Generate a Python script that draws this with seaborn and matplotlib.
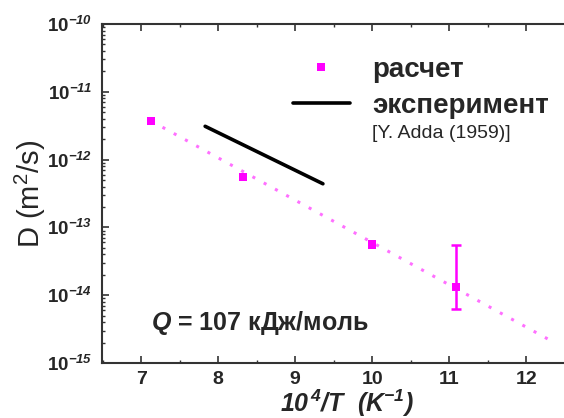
import numpy as np
import pandas as pd
import matplotlib
matplotlib.use("Agg")
import matplotlib.pyplot as plt
import matplotlib.ticker as mticker
import seaborn as sns
from matplotlib.lines import Line2D

# ---- data ----
calc_x = [7.13, 8.32, 10.0, 11.09]
calc_D = [3.7e-12, 5.6e-13, 5.6e-14, 1.34e-14]
err_x = [11.09]
err_D = [1.34e-14]
err_lo = [6.3e-15]
err_hi = [5.5e-14]
fit_x = [7.13, 12.35]
fit_D = [3.7e-12, 2.05e-15]
exp_x = [7.83, 9.36]
exp_D = [3.1e-12, 4.4e-13]
xticks = [7, 8, 9, 10, 11, 12]
yticks = [1e-15, 1e-14, 1e-13, 1e-12, 1e-11, 1e-10]

sns.set_style("ticks")
plt.rcParams["font.family"] = ["Liberation Sans", "DejaVu Sans"]
plt.rcParams["mathtext.fontset"] = "custom"
plt.rcParams["mathtext.rm"] = "Liberation Sans"
plt.rcParams["mathtext.it"] = "Liberation Sans:italic"
plt.rcParams["mathtext.bf"] = "Liberation Sans:bold"
plt.rcParams["mathtext.bfit"] = "Liberation Sans:bold:italic"

W, H = 564, 418
fig = plt.figure(figsize=(W / 100, H / 100), dpi=100)
AX_L, AX_B, AX_W, AX_H = 102, 363, 478, 339
ax = fig.add_axes([AX_L / W, (H - AX_B) / H, AX_W / W, AX_H / H])

MAG = "#ff00ff"
fit_df = pd.DataFrame({"x": fit_x, "D": fit_D})
sns.lineplot(data=fit_df, x="x", y="D", ax=ax, color="#ff70ff",
             linestyle=(0, (1, 3.2)), linewidth=2.2, legend=False)
exp_df = pd.DataFrame({"x": exp_x, "D": exp_D})
sns.lineplot(data=exp_df, x="x", y="D", ax=ax, color="black", linewidth=2.6,
             legend=False)
ax.errorbar(err_x, err_D,
            yerr=[np.array(err_D) - np.array(err_lo), np.array(err_hi) - np.array(err_D)],
            fmt="none", ecolor=MAG, elinewidth=1.8, capsize=3.8, capthick=1.8)
calc_df = pd.DataFrame({"x": calc_x, "D": calc_D})
sns.scatterplot(data=calc_df, x="x", y="D", ax=ax, color=MAG, marker="s",
                s=34, edgecolor="none", legend=False, zorder=5)

ax.set_yscale("log")
ax.set_ylim(1e-15, 1e-10)
ax.set_xlim(6.49, 12.7)
ax.set_xticks(xticks)
ax.xaxis.set_minor_locator(mticker.MultipleLocator(0.5))
ax.set_yticks(yticks)
ax.yaxis.set_minor_locator(mticker.LogLocator(base=10, subs=np.arange(2, 10)))
ax.yaxis.set_minor_formatter(mticker.NullFormatter())


def yfmt(v, pos):
    e = int(round(np.log10(v)))
    return r"$\mathbf{10}^{\mathbfit{%d}}$" % e


ax.yaxis.set_major_formatter(mticker.FuncFormatter(yfmt))
ax.set_xticklabels([str(t) for t in xticks])
for lab in ax.get_xticklabels():
    lab.set_fontweight("bold")
    lab.set_fontsize(14)
for lab in ax.get_yticklabels():
    lab.set_fontsize(13.5)

ax.tick_params(which="both", direction="in", top=True, right=False,
               color="#333333")
ax.tick_params(which="major", length=5, width=1.2)
ax.tick_params(which="minor", length=2.5, width=1.0)
ax.tick_params(axis="x", pad=6)
ax.tick_params(axis="y", pad=7)
for s in ["left", "bottom", "top"]:
    ax.spines[s].set_linewidth(1.5)
    ax.spines[s].set_color("#333333")
ax.spines["right"].set_visible(False)

ax.set_xlabel(r"$\mathbfit{10^{\,4}/T}$" + "  " + r"$\mathbfit{(K^{-1})}$",
              fontsize=18)
ax.xaxis.set_label_coords((347 - AX_L) / AX_W, -(388 - AX_B) / AX_H)
ax.set_ylabel("D (m$^2$/s)", fontsize=21)
ax.yaxis.set_label_coords(-(AX_L - 48) / AX_W, 0.5)

handles = [
    Line2D([], [], color=MAG, marker="s", linestyle="none", markersize=6,
           markeredgewidth=0),
    Line2D([], [], color="black", linewidth=2.6),
]
leg = ax.legend(handles, ["расчет", "эксперимент"],
                loc="upper left",
                bbox_to_anchor=((293 - AX_L) / AX_W, 1 - (57 - 24) / AX_H),
                frameon=False, handlelength=2.05, handletextpad=0.8,
                borderpad=0, borderaxespad=0,
                labelspacing=0.35, prop={"weight": "bold", "size": 20})

fig.text(372 / W, 1 - 134 / H, "[Y. Adda (1959)]", fontsize=14,
         va="center", ha="left")
fig.text(151 / W, 1 - 323 / H, r"$\mathbfit{Q}$" + " = 107 кДж/моль",
         fontsize=18, fontweight="bold", va="center", ha="left")

fig.savefig("out.png", dpi=100)
